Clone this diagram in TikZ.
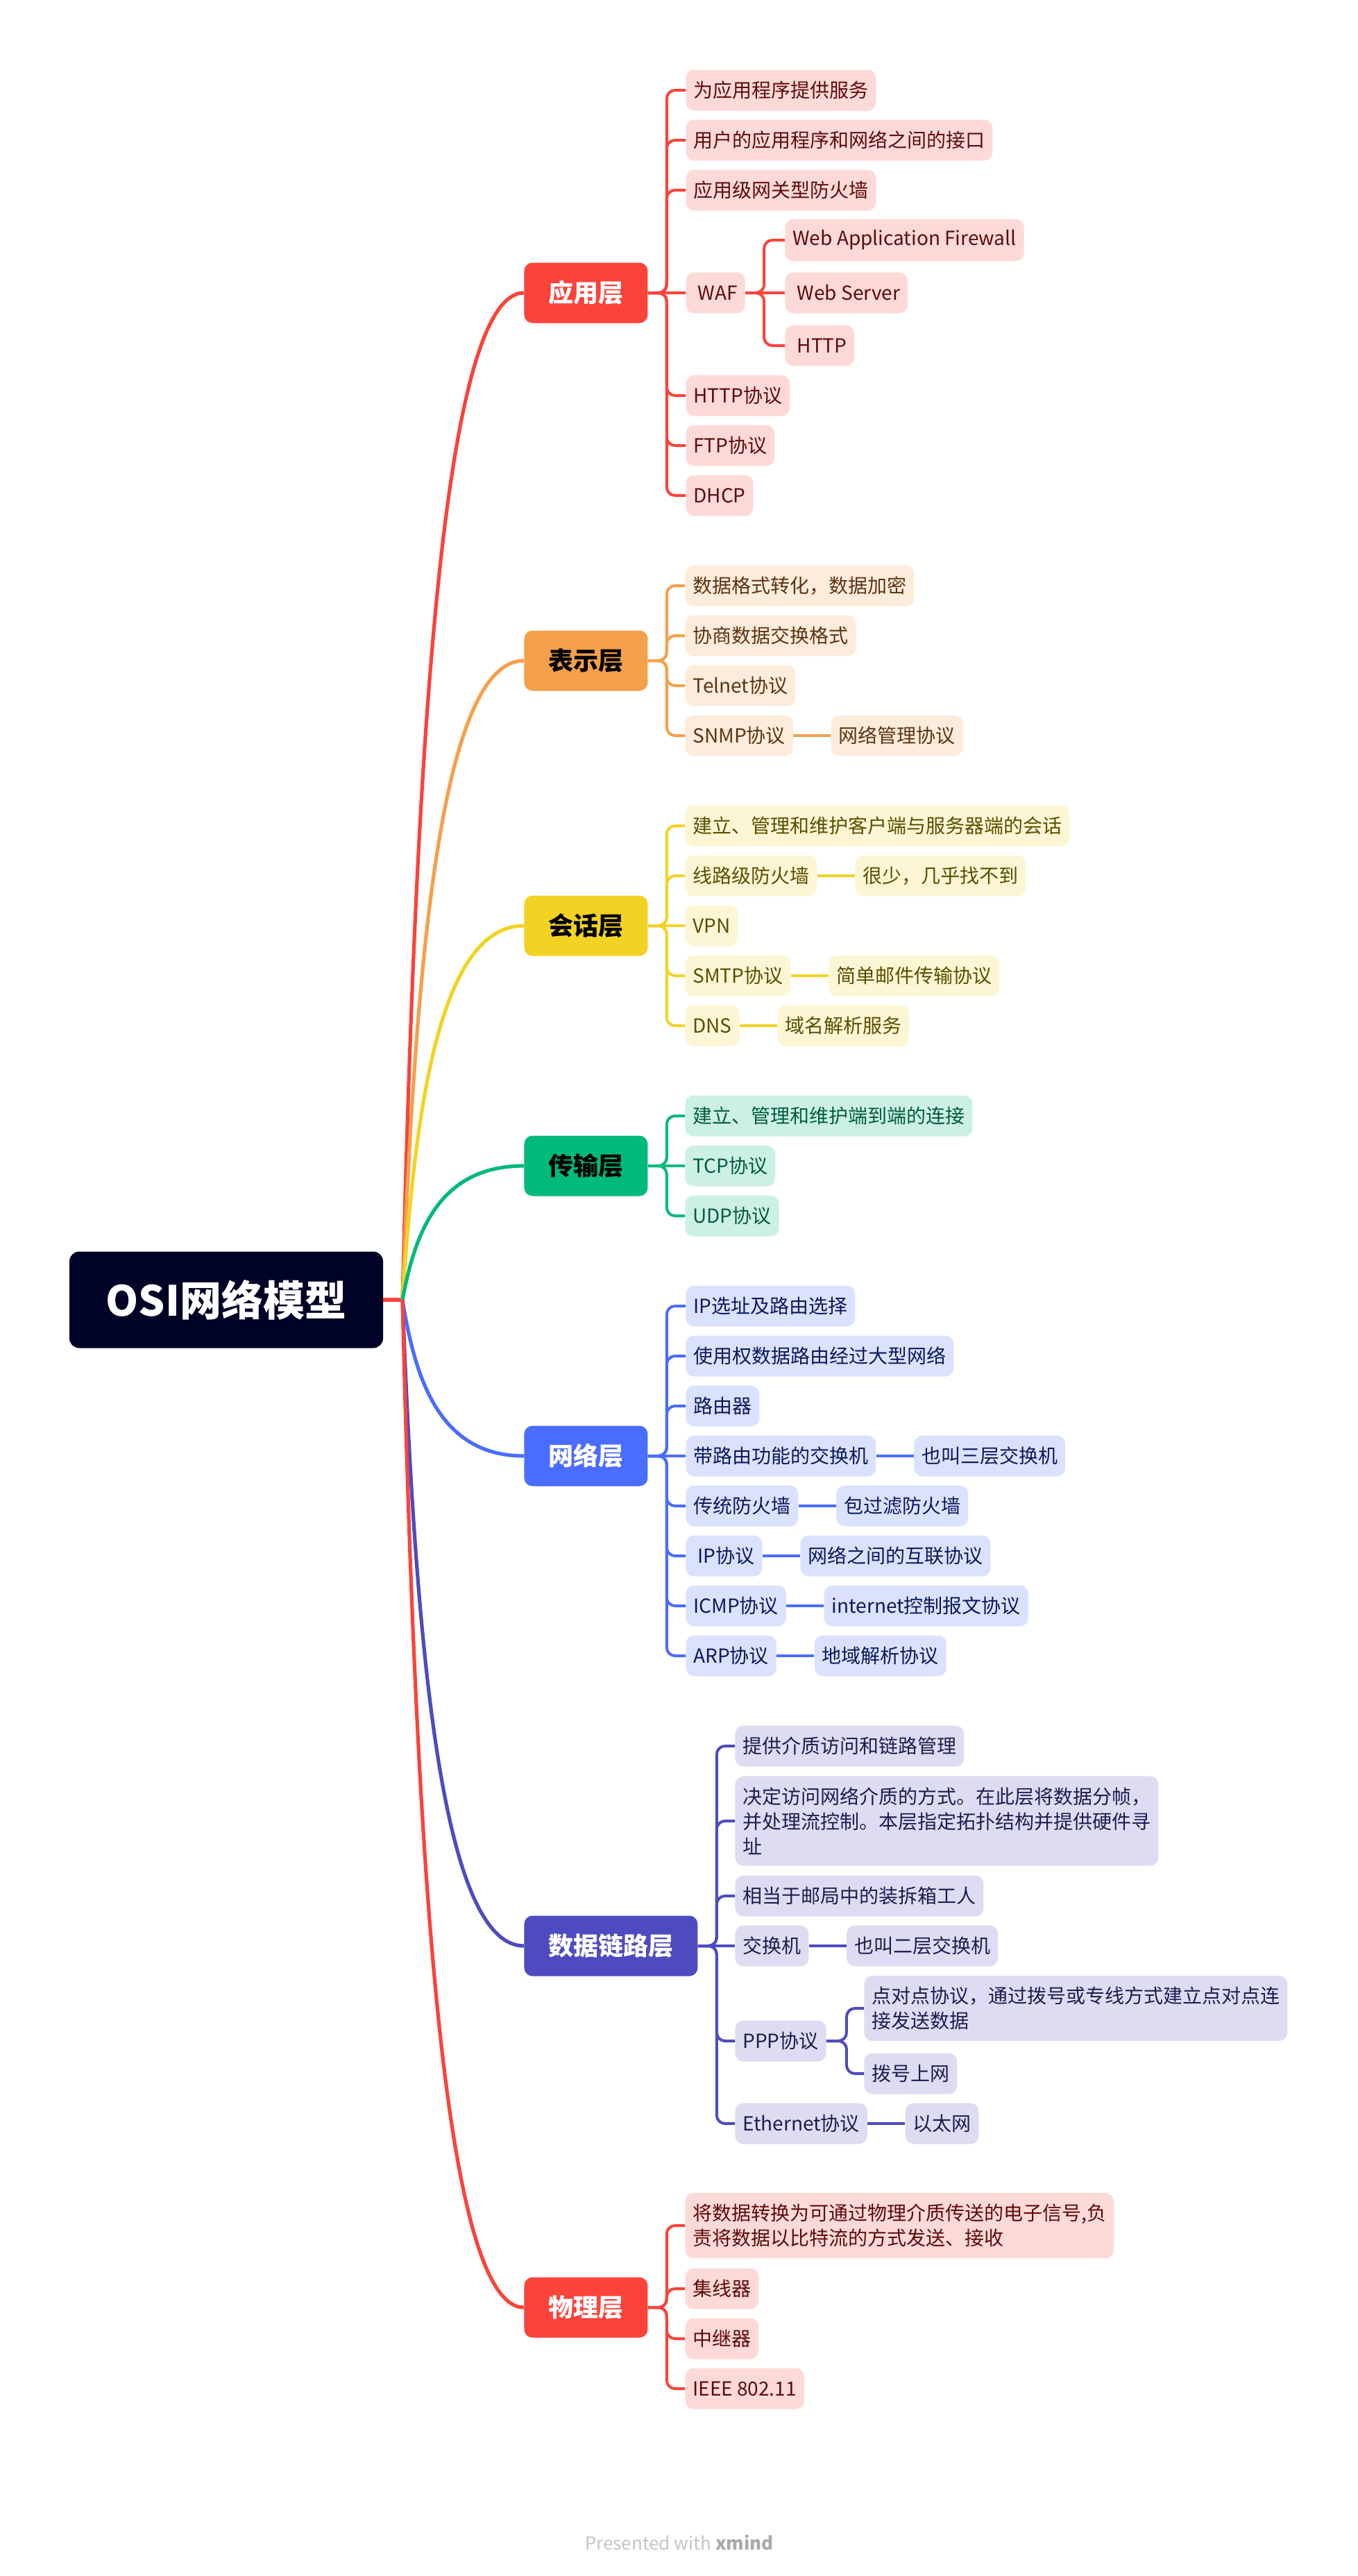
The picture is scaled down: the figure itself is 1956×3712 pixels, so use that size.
\documentclass[tikz,border=0pt]{standalone}
\usepackage{fontspec}
\setmainfont{Noto Sans CJK SC}
\usetikzlibrary{positioning}
\definecolor{rootnavy}{RGB}{0, 2, 38}
\definecolor{appred}{RGB}{250, 67, 58}
\definecolor{presorange}{RGB}{245, 160, 75}
\definecolor{sessyellow}{RGB}{242, 211, 36}
\definecolor{transgreen}{RGB}{0, 186, 122}
\definecolor{netblue}{RGB}{74, 108, 255}
\definecolor{linkindigo}{RGB}{78, 75, 192}
\definecolor{appfill}{RGB}{253, 218, 216}
\definecolor{presfill}{RGB}{253, 236, 220}
\definecolor{sessfill}{RGB}{252, 246, 212}
\definecolor{transfill}{RGB}{204, 241, 227}
\definecolor{netfill}{RGB}{219, 226, 255}
\definecolor{linkfill}{RGB}{222, 220, 242}
\definecolor{apptext}{RGB}{94, 10, 10}
\definecolor{prestext}{RGB}{92, 52, 18}
\definecolor{sesstext}{RGB}{92, 78, 0}
\definecolor{transtext}{RGB}{0, 92, 61}
\definecolor{nettext}{RGB}{10, 25, 92}
\definecolor{linktext}{RGB}{30, 28, 80}
\definecolor{footgray}{RGB}{196, 196, 196}
\definecolor{footdark}{RGB}{170, 170, 170}

\begin{document}
\begin{tikzpicture}[x=0.5pt, y=-0.5pt]
    \tikzstyle{rootbox} = [rectangle, rounded corners=7pt, fill=rootnavy, text=white,
                           minimum width=226pt, minimum height=69.5pt,
                           font=\fontsize{30}{36}\selectfont\bfseries]
    \tikzstyle{layer} = [rectangle, rounded corners=6pt, anchor=west, minimum height=43.5pt,
                         inner xsep=17.5pt, font=\fontsize{18}{22}\selectfont\bfseries]
    \tikzstyle{kid} = [rectangle, rounded corners=6pt, anchor=west, minimum height=29.5pt,
                       inner xsep=5.5pt, inner ysep=8pt, align=left,
                       font=\fontsize{14}{18}\selectfont]
    \tikzstyle{appkid} = [kid, fill=appfill, text=apptext]
    \tikzstyle{preskid} = [kid, fill=presfill, text=prestext]
    \tikzstyle{sesskid} = [kid, fill=sessfill, text=sesstext]
    \tikzstyle{transkid} = [kid, fill=transfill, text=transtext]
    \tikzstyle{netkid} = [kid, fill=netfill, text=nettext]
    \tikzstyle{linkkid} = [kid, fill=linkfill, text=linktext]
    \tikzstyle{trunk} = [line width=2.6pt]
    \tikzstyle{twig} = [line width=2pt, rounded corners=6pt]

    \useasboundingbox (0,0) rectangle (1956,3712);

    \node[rootbox] (osi) at (326,1873) {OSI网络模型};
    \coordinate (hub) at (580,1873);

    % 应用层
    \node[layer, fill=appred, text=white] (app) at (755,422) {应用层};
    \node[appkid] (a1)  at (988,130) {为应用程序提供服务};
    \node[appkid] (a2)  at (988,202) {用户的应用程序和网络之间的接口};
    \node[appkid] (a3)  at (988,274) {应用级网关型防火墙};
    \node[appkid] (waf) at (988,422) {\ WAF};
    \node[appkid] (w1)  at (1131,346) {Web Application Firewall};
    \node[appkid] (w2)  at (1131,422) {\ Web Server};
    \node[appkid] (w3)  at (1131,498) {\ HTTP};
    \node[appkid] (a5)  at (988,570) {HTTP协议};
    \node[appkid] (a6)  at (988,642) {FTP协议};
    \node[appkid] (a7)  at (988,714) {DHCP};

    % 表示层
    \node[layer, fill=presorange, text=black] (pres) at (755,952) {表示层};
    \node[preskid] (b1) at (987,844)  {数据格式转化，数据加密};
    \node[preskid] (b2) at (987,916)  {协商数据交换格式};
    \node[preskid] (b3) at (987,988)  {Telnet协议};
    \node[preskid] (b4) at (987,1060) {SNMP协议};
    \node[preskid, right=27pt of b4] (b4x) {网络管理协议};

    % 会话层
    \node[layer, fill=sessyellow, text=black] (sess) at (755,1334) {会话层};
    \node[sesskid] (c1) at (987,1190) {建立、管理和维护客户端与服务器端的会话};
    \node[sesskid] (c2) at (987,1262) {线路级防火墙};
    \node[sesskid, right=27pt of c2] (c2x) {很少，几乎找不到};
    \node[sesskid] (c3) at (987,1334) {VPN};
    \node[sesskid] (c4) at (987,1406) {SMTP协议};
    \node[sesskid, right=27pt of c4] (c4x) {简单邮件传输协议};
    \node[sesskid] (c5) at (987,1478) {DNS};
    \node[sesskid, right=27pt of c5] (c5x) {域名解析服务};

    % 传输层
    \node[layer, fill=transgreen, text=black] (trans) at (755,1680) {传输层};
    \node[transkid] (d1) at (987,1608) {建立、管理和维护端到端的连接};
    \node[transkid] (d2) at (987,1680) {TCP协议};
    \node[transkid] (d3) at (987,1752) {UDP协议};

    % 网络层
    \node[layer, fill=netblue, text=white] (net) at (755,2098) {网络层};
    \node[netkid] (e1) at (988,1882) {IP选址及路由选择};
    \node[netkid] (e2) at (988,1954) {使用权数据路由经过大型网络};
    \node[netkid] (e3) at (988,2026) {路由器};
    \node[netkid] (e4) at (988,2098) {带路由功能的交换机};
    \node[netkid, right=27pt of e4] (e4x) {也叫三层交换机};
    \node[netkid] (e5) at (988,2170) {传统防火墙};
    \node[netkid, right=27pt of e5] (e5x) {包过滤防火墙};
    \node[netkid] (e6) at (988,2242) {\ IP协议};
    \node[netkid, right=27pt of e6] (e6x) {网络之间的互联协议};
    \node[netkid] (e7) at (988,2314) {ICMP协议};
    \node[netkid, right=27pt of e7] (e7x) {internet控制报文协议};
    \node[netkid] (e8) at (988,2386) {ARP协议};
    \node[netkid, right=27pt of e8] (e8x) {地域解析协议};

    % 数据链路层
    \node[layer, fill=linkindigo, text=white] (link) at (755,2804) {数据链路层};
    \node[linkkid] (f1) at (1059,2516) {提供介质访问和链路管理};
    \node[linkkid] (f2) at (1059,2624) {决定访问网络介质的方式。在此层将数据分帧，\\并处理流控制。本层指定拓扑结构并提供硬件寻\\址};
    \node[linkkid] (f3) at (1059,2732) {相当于邮局中的装拆箱工人};
    \node[linkkid] (f4) at (1059,2804) {交换机};
    \node[linkkid, right=27pt of f4] (f4x) {也叫二层交换机};
    \node[linkkid] (ppp) at (1059,2941) {PPP协议};
    \node[linkkid] (p1) at (1245,2894) {点对点协议，通过拨号或专线方式建立点对点连\\接发送数据};
    \node[linkkid] (p2) at (1245,2988) {拨号上网};
    \node[linkkid] (f6) at (1059,3060) {Ethernet协议};
    \node[linkkid, right=27pt of f6] (f6x) {以太网};

    % 物理层
    \node[layer, fill=appred, text=white] (phy) at (755,3325) {物理层};
    \node[appkid] (g1) at (987,3207) {将数据转换为可通过物理介质传送的电子信号,负\\责将数据以比特流的方式发送、接收};
    \node[appkid] (g2) at (987,3298) {集线器};
    \node[appkid] (g3) at (987,3370) {中继器};
    \node[appkid] (g4) at (987,3442) {IEEE 802.11};

    % trunk curves from the root
    \draw[trunk, appred] (osi.east) -- (hub);
    \draw[trunk, appred] (hub) .. controls +(18,-726) and +(-123,0) .. (app.west);
    \draw[trunk, presorange] (hub) .. controls +(18,-460) and +(-123,0) .. (pres.west);
    \draw[trunk, sessyellow] (hub) .. controls +(18,-270) and +(-123,0) .. (sess.west);
    \draw[trunk, transgreen] (hub) .. controls +(18,-96) and +(-123,0) .. (trans.west);
    \draw[trunk, netblue] (hub) .. controls +(18,112) and +(-123,0) .. (net.west);
    \draw[trunk, linkindigo] (hub) .. controls +(18,466) and +(-123,0) .. (link.west);
    \draw[trunk, appred] (hub) .. controls +(18,726) and +(-123,0) .. (phy.west);

    % twigs to the children
    \foreach \k in {a1,a2,a3,a5,a6,a7} \draw[twig, appred] (app.east) -- ++(27,0) |- (\k.west);
    \draw[twig, appred] (app.east) -- (waf.west);
    \foreach \k in {w1,w3} \draw[twig, appred] (waf.east) -- ++(27,0) |- (\k.west);
    \draw[twig, appred] (waf.east) -- (w2.west);

    \foreach \k in {b1,b2,b3,b4} \draw[twig, presorange] (pres.east) -- ++(27,0) |- (\k.west);
    \draw[twig, presorange] (b4) -- (b4x);

    \foreach \k in {c1,c2,c4,c5} \draw[twig, sessyellow] (sess.east) -- ++(27,0) |- (\k.west);
    \draw[twig, sessyellow] (sess.east) -- (c3.west);
    \draw[twig, sessyellow] (c2) -- (c2x);
    \draw[twig, sessyellow] (c4) -- (c4x);
    \draw[twig, sessyellow] (c5) -- (c5x);

    \foreach \k in {d1,d3} \draw[twig, transgreen] (trans.east) -- ++(27,0) |- (\k.west);
    \draw[twig, transgreen] (trans.east) -- (d2.west);

    \foreach \k in {e1,e2,e3,e5,e6,e7,e8} \draw[twig, netblue] (net.east) -- ++(27,0) |- (\k.west);
    \draw[twig, netblue] (net.east) -- (e4.west);
    \foreach \k in {4,5,6,7,8} \draw[twig, netblue] (e\k) -- (e\k x);

    \foreach \k in {f1,f2,f3,ppp,f6} \draw[twig, linkindigo] (link.east) -- ++(27,0) |- (\k.west);
    \draw[twig, linkindigo] (link.east) -- (f4.west);
    \draw[twig, linkindigo] (f4) -- (f4x);
    \foreach \k in {p1,p2} \draw[twig, linkindigo] (ppp.east) -- ++(29,0) |- (\k.west);
    \draw[twig, linkindigo] (f6) -- (f6x);

    \foreach \k in {g1,g2,g3,g4} \draw[twig, appred] (phy.east) -- ++(27,0) |- (\k.west);

    \node[text=footgray, font=\fontsize{13}{16}\selectfont] (foot) at (979,3664)
        {Presented with \textcolor{footdark}{\bfseries xmind}};
\end{tikzpicture}
\end{document}
